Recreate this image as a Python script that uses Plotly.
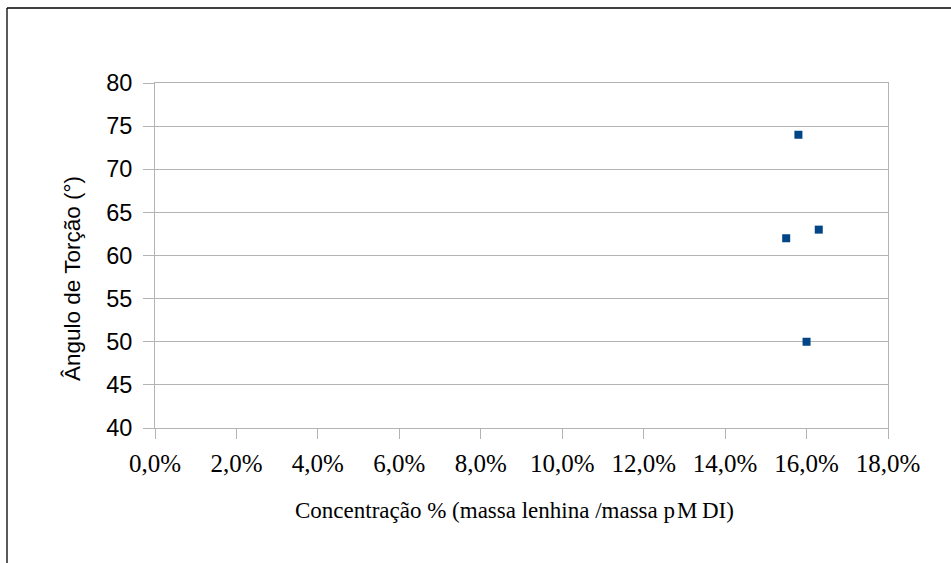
import plotly.graph_objects as go

# Lignin concentration (mass fraction lignin / pMDI) and measured torsion angle
concentracao = [0.158, 0.163, 0.155, 0.160]
angulo = [74, 63, 62, 50]

x_ticks = [0.0, 0.02, 0.04, 0.06, 0.08, 0.10, 0.12, 0.14, 0.16, 0.18]
x_tick_text = ["0,0%", "2,0%", "4,0%", "6,0%", "8,0%", "10,0%", "12,0%", "14,0%", "16,0%", "18,0%"]
y_ticks = [40, 45, 50, 55, 60, 65, 70, 75, 80]

W, H = 951, 563
L, R, T, B = 155, 63, 83, 135
pw, ph = W - L - R, H - T - B

def px_x(p):
    return (p - L) / pw

def px_y(p):
    return (H - B - p) / ph

grid = "#b3b3b3"

fig = go.Figure(
    go.Scatter(
        x=concentracao,
        y=angulo,
        mode="markers",
        marker=dict(symbol="square", size=8, color="#004586"),
        showlegend=False,
    )
)

fig.update_xaxes(
    range=[0, 0.18],
    tickvals=x_ticks,
    ticktext=x_tick_text,
    showgrid=False,
    zeroline=False,
    showline=True,
    linecolor=grid,
    linewidth=1,
    mirror=True,
    ticks="outside",
    ticklen=10,
    tickcolor=grid,
    ticklabelstandoff=3,
    tickfont=dict(family="Liberation Serif", size=25, color="#000000"),
)
fig.update_yaxes(
    range=[40, 80],
    tickvals=y_ticks,
    showgrid=True,
    gridcolor=grid,
    gridwidth=1,
    zeroline=False,
    showline=True,
    linecolor=grid,
    linewidth=1,
    mirror=True,
    ticks="outside",
    ticklen=11,
    tickcolor=grid,
    ticklabelstandoff=6,
    tickfont=dict(family="Liberation Sans", size=23.5, color="#000000"),
)

fig.update_layout(
    width=W,
    height=H,
    margin=dict(l=L, r=R, t=T, b=B),
    paper_bgcolor="white",
    plot_bgcolor="white",
    annotations=[
        dict(
            text="Ângulo de Torção (°)",
            xref="paper", yref="paper",
            x=px_x(72), y=px_y(279),
            showarrow=False, textangle=-90,
            xanchor="center", yanchor="middle",
            font=dict(family="Liberation Sans", size=22.5, color="#000000"),
        ),
        dict(
            text="Concentração % (massa lenhina /massa p\u200aM\u2009DI)",
            xref="paper", yref="paper",
            x=px_x(514), y=px_y(510),
            showarrow=False,
            xanchor="center", yanchor="middle",
            font=dict(family="Liberation Serif", size=23, color="#000000"),
        ),
    ],
    shapes=[
        dict(type="line", xref="paper", yref="paper",
             x0=px_x(7), x1=px_x(W + 5), y0=px_y(8), y1=px_y(8),
             line=dict(color="#000000", width=1.3)),
        dict(type="line", xref="paper", yref="paper",
             x0=px_x(7), x1=px_x(7), y0=px_y(8), y1=px_y(H + 5),
             line=dict(color="#000000", width=1.3)),
    ],
)

fig.write_html("out.html")
